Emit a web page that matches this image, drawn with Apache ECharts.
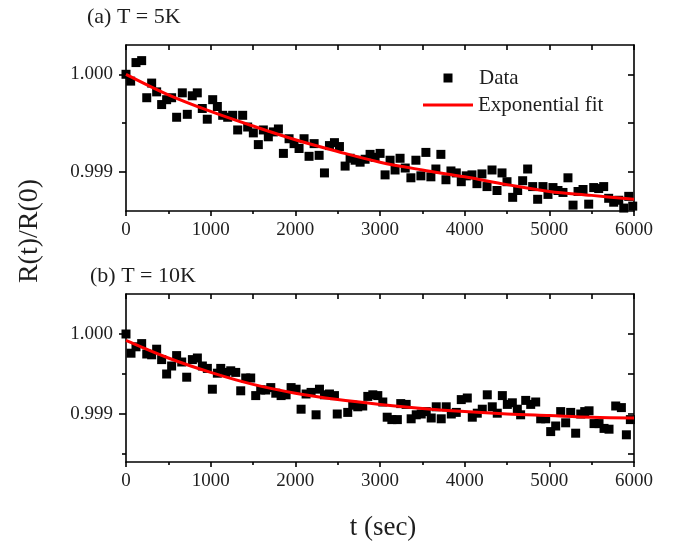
<!DOCTYPE html>
<html>
<head>
<meta charset="utf-8">
<title>R(t)/R(0) relaxation</title>
<script src="https://cdn.jsdelivr.net/npm/echarts@6/dist/echarts.min.js"></script>
<style>
  html, body { margin: 0; padding: 0; background: #fff; }
  #chart { width: 679px; height: 541px; }
</style>
</head>
<body>
<div id="chart"></div>
<script>
// ---- measured data, panel (a): T = 5K ----
const timesA = [0, 55, 118, 185, 245, 303, 362, 421, 480, 539, 598, 665, 724, 783, 842, 901, 960, 1024, 1079, 1142,
  1201, 1260, 1319, 1378, 1437, 1504, 1563, 1622, 1681, 1740, 1800, 1859, 1926, 1985, 2044, 2103, 2162, 2222, 2281, 2344,
  2403, 2462, 2521, 2588, 2647, 2706, 2765, 2824, 2883, 2942, 3001, 3060, 3119, 3178, 3237, 3298, 3365, 3424, 3483, 3542,
  3601, 3660, 3719, 3779, 3838, 3901, 3960, 4019, 4086, 4145, 4204, 4264, 4323, 4382, 4441, 4500, 4567, 4626, 4685, 4744,
  4803, 4862, 4925, 4984, 5043, 5102, 5161, 5220, 5280, 5339, 5398, 5465, 5524, 5583, 5642, 5701, 5760, 5820, 5879, 5938, 5985];
const valuesA = [1.00000, 0.99993, 1.00012, 1.00014, 0.99976, 0.99991, 0.99982, 0.99969, 0.99974, 0.99976,
  0.99956, 0.99981, 0.99959, 0.99978, 0.99981, 0.99965, 0.99954, 0.99974, 0.99967, 0.99958,
  0.99956, 0.99958, 0.99943, 0.99958, 0.99946, 0.99940, 0.99928, 0.99943, 0.99936, 0.99941,
  0.99944, 0.99919, 0.99934, 0.99929, 0.99924, 0.99934, 0.99916, 0.99929, 0.99917, 0.99899,
  0.99927, 0.99930, 0.99926, 0.99906, 0.99914, 0.99912, 0.99910, 0.99913, 0.99918, 0.99915,
  0.99919, 0.99897, 0.99912, 0.99902, 0.99914, 0.99904, 0.99894, 0.99912, 0.99896, 0.99920,
  0.99895, 0.99903, 0.99918, 0.99892, 0.99901, 0.99899, 0.99890, 0.99896, 0.99897, 0.99888,
  0.99898, 0.99885, 0.99902, 0.99881, 0.99899, 0.99890, 0.99874, 0.99881, 0.99891, 0.99903,
  0.99885, 0.99872, 0.99885, 0.99877, 0.99884, 0.99881, 0.99879, 0.99894, 0.99866, 0.99880,
  0.99882, 0.99867, 0.99884, 0.99883, 0.99885, 0.99873, 0.99869, 0.99871, 0.99863, 0.99875, 0.99865];

// ---- measured data, panel (b): T = 10K ----
const timesB = [0, 59, 118, 185, 245, 303, 362, 421, 480, 539, 598, 658, 717, 784, 843, 902, 961, 1020, 1079, 1119,
  1178, 1237, 1296, 1355, 1414, 1473, 1532, 1591, 1651, 1710, 1769, 1832, 1891, 1950, 2009, 2068, 2127, 2186, 2245, 2285,
  2344, 2403, 2462, 2495, 2619, 2678, 2737, 2796, 2856, 2915, 2974, 3033, 3085, 3140, 3205, 3245, 3309, 3368, 3428, 3487,
  3546, 3605, 3664, 3723, 3782, 3842, 3901, 3960, 4031, 4090, 4149, 4208, 4267, 4326, 4385, 4445, 4504, 4563, 4622, 4661,
  4721, 4780, 4839, 4898, 4957, 5016, 5075, 5134, 5193, 5252, 5311, 5371, 5418, 5469, 5528, 5587, 5646, 5705, 5784, 5851,
  5910, 5957];
const valuesB = [1.00000, 0.99976, 0.99984, 0.99988, 0.99975, 0.99974, 0.99981, 0.99968, 0.99950, 0.99960,
  0.99973, 0.99965, 0.99946, 0.99968, 0.99970, 0.99960, 0.99957, 0.99931, 0.99951, 0.99957,
  0.99952, 0.99954, 0.99952, 0.99929, 0.99945, 0.99945, 0.99923, 0.99930, 0.99930, 0.99933,
  0.99926, 0.99923, 0.99924, 0.99933, 0.99931, 0.99906, 0.99925, 0.99927, 0.99899, 0.99931,
  0.99924, 0.99925, 0.99923, 0.99900, 0.99902, 0.99911, 0.99909, 0.99910, 0.99922, 0.99924,
  0.99923, 0.99915, 0.99896, 0.99893, 0.99893, 0.99913, 0.99912, 0.99894, 0.99899, 0.99900,
  0.99903, 0.99895, 0.99909, 0.99894, 0.99909, 0.99900, 0.99902, 0.99918, 0.99920, 0.99896,
  0.99901, 0.99906, 0.99924, 0.99909, 0.99901, 0.99923, 0.99912, 0.99914, 0.99906, 0.99899,
  0.99917, 0.99912, 0.99915, 0.99894, 0.99894, 0.99878, 0.99885, 0.99903, 0.99889, 0.99902,
  0.99876, 0.99900, 0.99903, 0.99904, 0.99888, 0.99888, 0.99882, 0.99881, 0.99910, 0.99908,
  0.99874, 0.99893];

// ---- exponential fit curves, sampled every 500 s ----
const fitTimes = [0, 500, 1000, 1500, 2000, 2500, 3000, 3500, 4000, 4500, 5000, 5500, 6000];
const fitA = [1.00000, 0.99979, 0.99962, 0.99947, 0.99933, 0.99921, 0.99910, 0.99902, 0.99895, 0.99887, 0.99880, 0.99876, 0.99872];
const fitB = [0.99992, 0.99970, 0.99952, 0.99937, 0.99926, 0.99918, 0.99912, 0.99907, 0.99903, 0.99900, 0.99898, 0.99896, 0.99895];

// ---- axis ranges and ticks ----
const yRangeA = [0.9986, 1.0003];
const yRangeB = [0.9984, 1.0005];
const yMajorTicksA = [0.999, 1.000];
const yMinorTicksA = [0.9995];
const yMajorTicksB = [0.999, 1.000];
const yMinorTicksB = [0.9985, 0.9995];
const xRange = [0, 6000];

const panelTitles = ['(a) T = 5K', '(b) T = 10K'];
const yTitle = 'R(t)/R(0)';
const xTitle = 't (sec)';
const legendNames = ['Data', 'Exponential fit'];

const zip = (xs, ys) => xs.map((x, i) => [x, ys[i]]);

const FONT = '"Liberation Serif", "Times New Roman", serif';
const INK = '#1e1e1e';
const axisLine = { color: '#000', width: 1.6 };

function xAxesFor(gridIndex) {
  return [
    {
      gridIndex, type: 'value', position: 'bottom', min: xRange[0], max: xRange[1], interval: 1000,
      axisLine: { show: true, onZero: false, lineStyle: axisLine },
      axisTick: { show: true, length: 5, lineStyle: axisLine },
      minorTick: { show: true, splitNumber: 2, length: 3, lineStyle: axisLine },
      axisLabel: {
        show: true, margin: 10, fontSize: 19, fontFamily: FONT, color: INK,
        formatter: v => String(Math.round(v))
      },
      splitLine: { show: false }, minorSplitLine: { show: false }
    },
    {
      gridIndex, type: 'value', position: 'top', min: xRange[0], max: xRange[1], interval: 500,
      axisLine: { show: true, onZero: false, lineStyle: axisLine },
      axisTick: { show: true, inside: true, length: 5, lineStyle: axisLine },
      axisLabel: { show: false }, splitLine: { show: false }
    }
  ];
}

function yAxesFor(gridIndex, range, major, minor) {
  return [
    {
      gridIndex, type: 'value', position: 'left', min: range[0], max: range[1],
      axisLine: { show: true, onZero: false, lineStyle: axisLine },
      axisTick: { show: true, customValues: major, length: 7, lineStyle: axisLine },
      axisLabel: {
        show: true, customValues: major, margin: 13, fontSize: 19, fontFamily: FONT, color: INK,
        formatter: v => Number(v).toFixed(3)
      },
      splitLine: { show: false }
    },
    {
      gridIndex, type: 'value', position: 'left', min: range[0], max: range[1],
      axisLine: { show: false, onZero: false },
      axisTick: { show: true, customValues: minor, length: 4, lineStyle: axisLine },
      axisLabel: { show: false }, splitLine: { show: false }
    },
    {
      gridIndex, type: 'value', position: 'right', min: range[0], max: range[1],
      axisLine: { show: true, onZero: false, lineStyle: axisLine },
      axisTick: { show: true, inside: true, customValues: major.concat(minor), length: 6, lineStyle: axisLine },
      axisLabel: { show: false }, splitLine: { show: false }
    }
  ];
}

const chart = echarts.init(document.getElementById('chart'), null, { renderer: 'canvas' });

const option = {
  backgroundColor: '#ffffff',
  animation: false,
  grid: [
    { left: 126, top: 45, width: 508, height: 166 },
    { left: 126, top: 294, width: 508, height: 168 }
  ],
  xAxis: xAxesFor(0).concat(xAxesFor(1)),
  yAxis: yAxesFor(0, yRangeA, yMajorTicksA, yMinorTicksA).concat(yAxesFor(1, yRangeB, yMajorTicksB, yMinorTicksB)),
  legend: [
    {
      left: 438, top: 67.5, padding: 0, orient: 'vertical',
      itemWidth: 36, itemHeight: 9, itemGap: 0,
      data: [{ name: legendNames[0], icon: 'path://M0,0L0,0M36,9L36,9M5.5,0L14.5,0L14.5,9L5.5,9Z' }],
      textStyle: { fontSize: 21, fontFamily: FONT, color: INK },
      selectedMode: false
    },
    {
      left: 423, top: 94.5, padding: 0, orient: 'vertical',
      itemWidth: 50, itemHeight: 3, itemGap: 0,
      data: [{ name: legendNames[1], icon: 'rect' }],
      textStyle: { fontSize: 21, fontFamily: FONT, color: INK },
      selectedMode: false
    }
  ],
  series: [
    {
      name: legendNames[0], type: 'scatter', xAxisIndex: 0, yAxisIndex: 0,
      symbol: 'rect', symbolSize: 9, itemStyle: { color: '#000', opacity: 1 },
      data: zip(timesA, valuesA), z: 2
    },
    {
      name: legendNames[1], type: 'line', xAxisIndex: 0, yAxisIndex: 0,
      smooth: 0.35, showSymbol: false, symbol: 'none',
      lineStyle: { color: '#ff0000', width: 3 }, itemStyle: { color: '#ff0000' },
      data: zip(fitTimes, fitA), z: 3
    },
    {
      name: legendNames[0], type: 'scatter', xAxisIndex: 2, yAxisIndex: 3,
      symbol: 'rect', symbolSize: 9, itemStyle: { color: '#000', opacity: 1 },
      data: zip(timesB, valuesB), z: 2
    },
    {
      name: legendNames[1], type: 'line', xAxisIndex: 2, yAxisIndex: 3,
      smooth: 0.35, showSymbol: false, symbol: 'none',
      lineStyle: { color: '#ff0000', width: 3 }, itemStyle: { color: '#ff0000' },
      data: zip(fitTimes, fitB), z: 3
    }
  ],
  graphic: [
    {
      type: 'text', x: 87, y: 17,
      style: { text: panelTitles[0], fontSize: 22, fontFamily: FONT, fill: INK, align: 'left', verticalAlign: 'middle' }
    },
    {
      type: 'text', x: 90, y: 276,
      style: { text: panelTitles[1], fontSize: 22, fontFamily: FONT, fill: INK, align: 'left', verticalAlign: 'middle' }
    },
    {
      type: 'text', x: 30, y: 231, rotation: Math.PI / 2,
      style: { text: yTitle, fontSize: 28, fontFamily: FONT, fill: INK, align: 'center', verticalAlign: 'middle' }
    },
    {
      type: 'text', x: 383, y: 528,
      style: { text: xTitle, fontSize: 27, fontFamily: FONT, fill: INK, align: 'center', verticalAlign: 'middle' }
    }
  ]
};

chart.setOption(option);
</script>
</body>
</html>
